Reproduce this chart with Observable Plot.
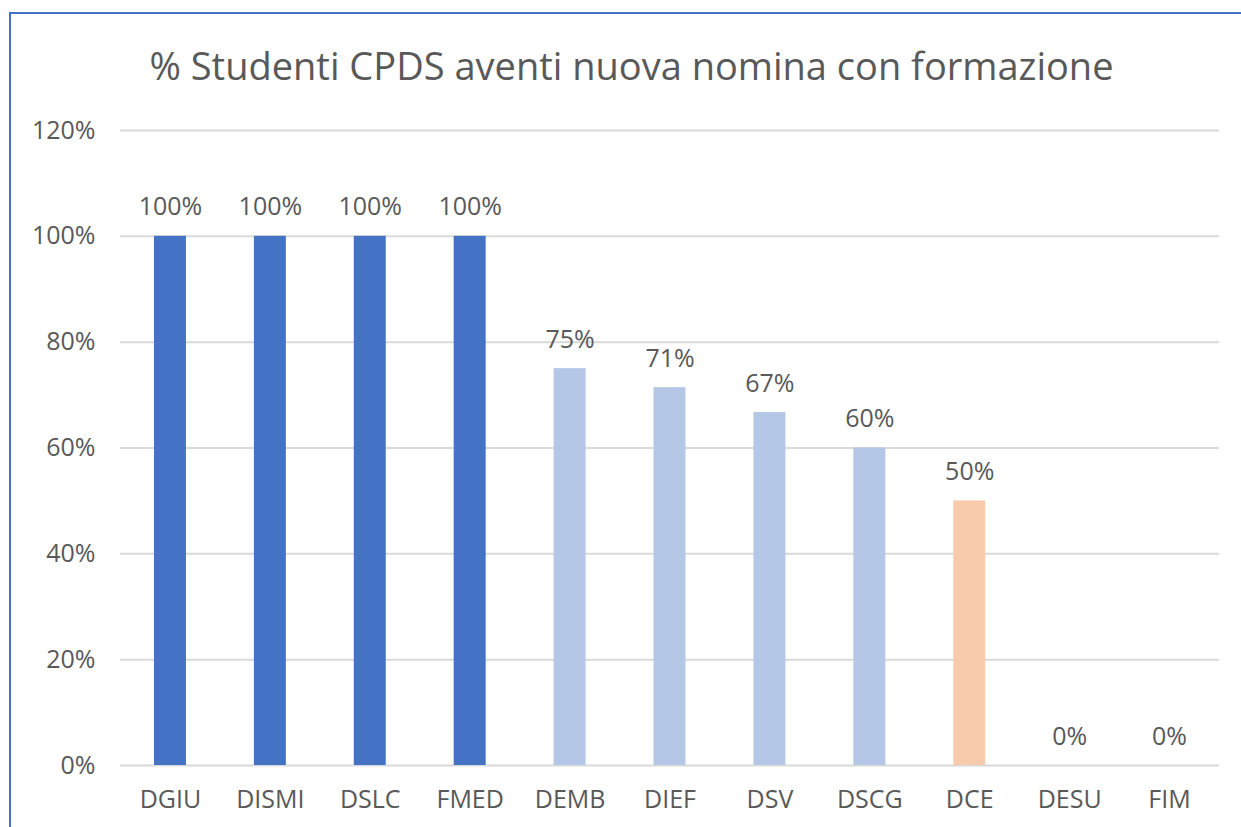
<!DOCTYPE html>
<html>
<head>
<meta charset="utf-8">
<script src="https://cdn.jsdelivr.net/npm/d3@7"></script>
<script src="https://cdn.jsdelivr.net/npm/@observablehq/plot@0.6"></script>
<style>
  html, body { margin: 0; padding: 0; background: #fff; }
  #wrap { position: relative; width: 1241px; height: 827px; overflow: hidden; font-family: "Open Sans", sans-serif; }
  #frame { position: absolute; left: 9px; top: 12px; width: 1300px; height: 900px; border-left: 2px solid #4472C4; border-top: 2px solid #4472C4; }
  #title { position: absolute; left: 0; top: 38px; width: 1263px; text-align: center; font-size: 38px; color: #595959; line-height: 54px; }
  #chart { position: absolute; left: 0; top: 0; }
</style>
</head>
<body>
<div id="wrap">
  <div id="frame"></div>
  <div id="chart"></div>
  <div id="title">% Studenti CPDS aventi nuova nomina con formazione</div>
</div>
<script>
const categories = ["DGIU", "DISMI", "DSLC", "FMED", "DEMB", "DIEF", "DSV", "DSCG", "DCE", "DESU", "FIM"];
const values = [1.00, 1.00, 1.00, 1.00, 0.75, 0.714, 0.667, 0.60, 0.50, 0, 0];
const groups = ["full", "full", "full", "full", "high", "high", "high", "high", "half", "none", "none"];
const yTicks = [0, 0.2, 0.4, 0.6, 0.8, 1.0, 1.2];

const data = categories.map((c, i) => ({ cat: c, value: values[i], group: groups[i] }));

const chart = Plot.plot({
  width: 1241,
  height: 827,
  marginTop: 130,
  marginBottom: 62,
  marginLeft: 120,
  marginRight: 22,
  style: { fontFamily: "'Open Sans', sans-serif", fontSize: "25px", color: "#595959", background: "transparent", overflow: "visible" },
  x: { domain: categories, paddingInner: 0.68, paddingOuter: 0.34, round: false, label: null, tickSize: 0, tickPadding: 25 },
  y: { domain: [0, 1.2], ticks: yTicks, tickFormat: d3.format(".0%"), label: null, tickSize: 0, tickPadding: 25 },
  color: { domain: ["full", "high", "half", "none"], range: ["#4472C4", "#B4C7E7", "#F8CBAD", "#B4C7E7"] },
  marks: [
    Plot.gridY(yTicks, { stroke: "#d9d9d9", strokeOpacity: 1, strokeWidth: 2 }),
    Plot.barY(data, { x: "cat", y: "value", fill: "group" }),
    Plot.text(data, { x: "cat", y: "value", text: d => d3.format(".0%")(d.value), dy: -29, fill: "#595959", fontSize: 25 })
  ]
});
document.getElementById("chart").appendChild(chart);
</script>
</body>
</html>
